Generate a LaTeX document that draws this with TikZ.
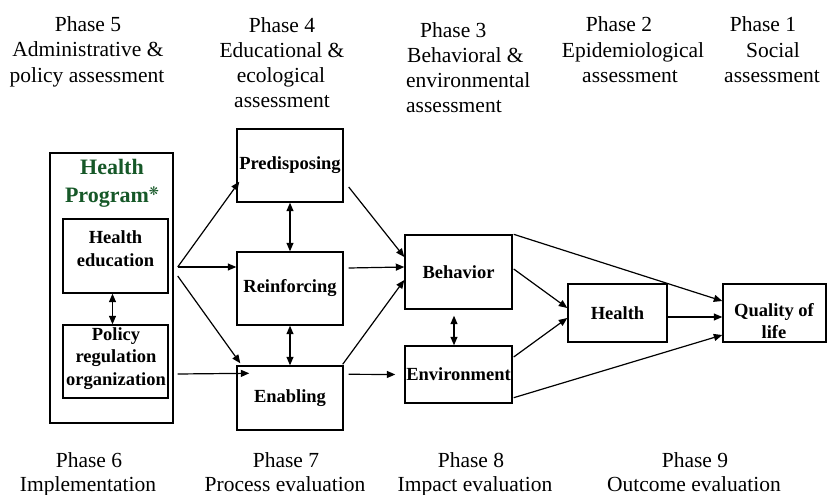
\documentclass[tikz,border=0pt]{standalone}
\usepackage{fontspec}
\setmainfont{Liberation Serif}
\newfontfamily\symfont{DejaVu Sans}
\usetikzlibrary{arrows.meta,calc}
\definecolor{progGreen}{RGB}{22,88,40}
\begin{document}
\begin{tikzpicture}[x=1pt,y=-1pt,
  box/.style={draw,line width=1.4pt,inner sep=0pt,font=\fontsize{18.5}{22}\selectfont\bfseries},
  boxtext/.style={font=\fontsize{18.5}{22}\selectfont\bfseries,anchor=base,inner sep=0pt},
  head/.style={font=\fontsize{21.5}{25}\selectfont,anchor=base,inner sep=0pt},
  headl/.style={head,anchor=base west},
  foot/.style={font=\fontsize{21.5}{25}\selectfont,anchor=base,inner sep=0pt},
  title/.style={font=\fontsize{22}{26}\selectfont\bfseries,text=progGreen,anchor=base,inner sep=0pt},
  arr/.style={line width=1.2pt,-{Triangle[length=8.5pt,width=7pt]}},
  darr/.style={line width=1.2pt,{Triangle[length=8.5pt,width=7pt]}-{Triangle[length=8.5pt,width=7pt]}},
  ]
\useasboundingbox (0,0) rectangle (828,495);

% headers
\node[head] (h5a) at (88,32) {Phase 5};
\node[head] (h5b) at (88,57) {Administrative \&};
\node[head] (h5c) at (87,82) {policy assessment};
\node[head] (h4a) at (282,33) {Phase 4};
\node[head] (h4b) at (282,58) {Educational \&};
\node[head] (h4c) at (281,82) {ecological};
\node[head] (h4d) at (282,107) {assessment};
\node[headl] (h3a) at (420,38) {Phase 3};
\node[headl] (h3b) at (407,63) {Behavioral \&};
\node[headl] (h3c) at (406,88) {environmental};
\node[headl] (h3d) at (406,113) {assessment};
\node[head] (h2a) at (619,32) {Phase 2};
\node[head] (h2b) at (633,58) {Epidemiological};
\node[head] (h2c) at (630,83) {assessment};
\node[head] (h1a) at (763,32) {Phase 1};
\node[head] (h1b) at (773,58) {Social};
\node[head] (h1c) at (772,83) {assessment};

% footers
\node[foot] (f6a) at (89,467) {Phase 6};
\node[foot] (f6b) at (88,491) {Implementation};
\node[foot] (f7a) at (286,467) {Phase 7};
\node[foot] (f7b) at (285,491) {Process evaluation};
\node[foot] (f8a) at (471,467) {Phase 8};
\node[foot] (f8b) at (475,491) {Impact evaluation};
\node[foot] (f9a) at (695,467) {Phase 9};
\node[foot] (f9b) at (694,491) {Outcome evaluation};

% health program
\node[box,minimum width=123pt,minimum height=270pt] (prog) at (111.5,288) {};
\node[title] (progt1) at (112,174) {Health};
\node[title] (progt2) at (112,202) {Program\raisebox{7pt}{\symfont\fontsize{12}{12}\selectfont ❋}};
\node[box,minimum width=105pt,minimum height=74pt] (hedu) at (115.5,256) {};
\node[boxtext] (hedut1) at (115.5,243) {Health};
\node[boxtext] (hedut2) at (115.5,266) {education};
\node[box,minimum width=105pt,minimum height=73pt] (policy) at (115.5,361.5) {};
\node[boxtext] (polt1) at (116,340) {Policy};
\node[boxtext] (polt2) at (116,362) {regulation};
\node[boxtext] (polt3) at (116,385) {organization};

% phase 4 boxes
\node[box,minimum width=106pt,minimum height=73pt] (pred) at (290,165.5) {Predisposing};
\node[box,minimum width=106pt,minimum height=73pt] (reinf) at (290,288.5) {Reinforcing};
\node[box,minimum width=106pt,minimum height=64pt] (enab) at (290,398) {Enabling};

% phase 3 boxes
\node[box,minimum width=107pt,minimum height=74pt] (behav) at (458.5,272) {Behavior};
\node[box,minimum width=107pt,minimum height=57pt] (env) at (458.5,374.5) {Environment};

% phase 2/1 boxes
\node[box,minimum width=99pt,minimum height=58pt] (health) at (617.5,313) {Health};
\node[box,minimum width=103pt,minimum height=58pt] (qol) at (774.5,313) {};
\node[boxtext] (qolt1) at (774,316) {Quality of};
\node[boxtext] (qolt2) at (774,338) {life};

% connectors
\draw[arr] ($(hedu.east)+(9,11)$) -- ($(pred.south west)+(3,-21)$);
\draw[arr] ($(hedu.east)+(9,11)$) -- ($(reinf.west)+(0,-21.5)$);
\draw[arr] ($(hedu.east)+(9,20)$) -- ($(enab.north west)+(4,-2)$);
\draw[arr] ($(policy.east)+(9,12.5)$) -- ($(enab.north west)+(13,8)$);
\draw[darr] ($(hedu.south)+(-3,0)$) -- ($(policy.north)+(-3,0)$);
\draw[darr] (pred.south) -- (reinf.north);
\draw[darr] (reinf.south) -- (enab.north);
\draw[arr] ($(pred.east)+(5,21.5)$) -- ($(behav.west)+(0,-15)$);
\draw[arr] ($(reinf.east)+(5,-20.5)$) -- ($(behav.west)+(0,-5)$);
\draw[arr] ($(enab.north east)+(-1,-1)$) -- ($(behav.west)+(0,8)$);
\draw[arr] ($(enab.north east)+(5,9)$) -- ($(env.west)+(-9,0)$);
\draw[darr] ($(behav.south)+(-4.5,6)$) -- ($(env.north)+(-4.5,0)$);
\draw[arr] ($(behav.east)+(1,-3)$) -- ($(health.west)+(0,-5)$);
\draw[arr] ($(env.east)+(1,-17.5)$) -- ($(health.west)+(0,5)$);
\draw[arr] ($(behav.north east)+(1,0)$) -- ($(qol.west)+(0,-12)$);
\draw[arr] ($(health.east)+(0,4)$) -- ($(qol.west)+(0,4)$);
\draw[arr] ($(env.south east)+(1,-6)$) -- ($(qol.west)+(0,22)$);
\end{tikzpicture}
\end{document}
